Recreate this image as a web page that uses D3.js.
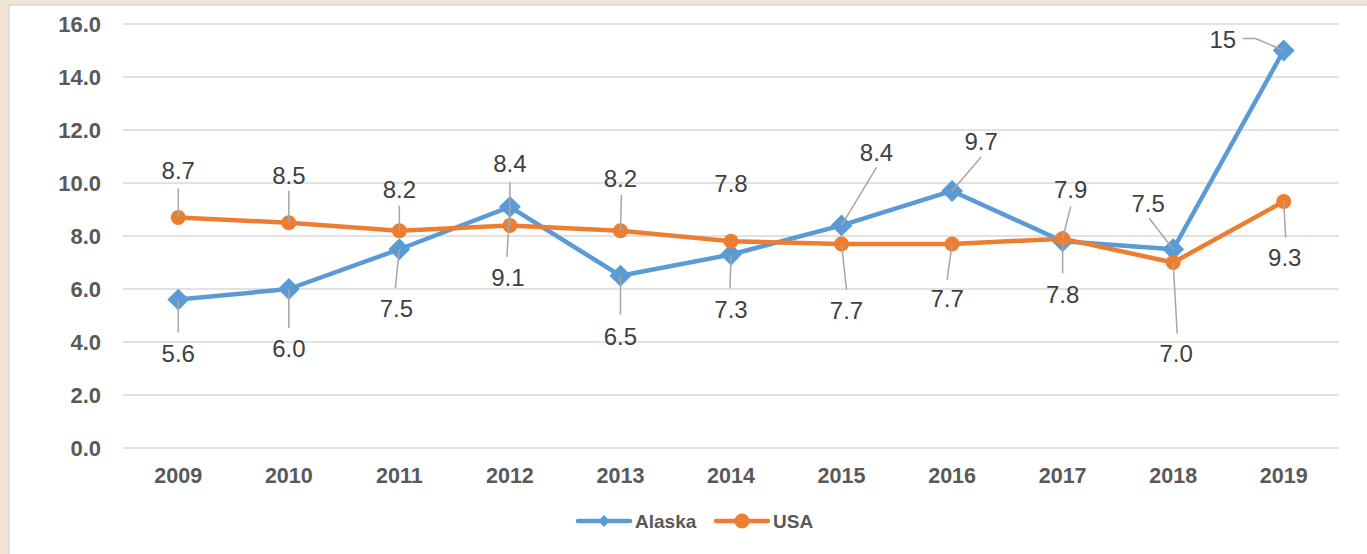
<!DOCTYPE html>
<html>
<head>
<meta charset="utf-8">
<script src="https://cdn.jsdelivr.net/npm/d3@7/dist/d3.min.js"></script>
<style>
  html, body { margin: 0; padding: 0; background: #f3e4d6; }
  #chart { width: 1367px; height: 554px; }
</style>
</head>
<body>
<div id="chart"></div>
<script>
// 数据
const years = ["2009", "2010", "2011", "2012", "2013", "2014", "2015", "2016", "2017", "2018", "2019"];
const alaska = [5.6, 6.0, 7.5, 9.1, 6.5, 7.3, 8.4, 9.7, 7.8, 7.5, 15];
const usa = [8.7, 8.5, 8.2, 8.4, 8.2, 7.8, 7.7, 7.7, 7.9, 7.0, 9.3];
const alaskaLabels = ["5.6", "6.0", "7.5", "9.1", "6.5", "7.3", "8.4", "9.7", "7.8", "7.5", "15"];
const usaLabels = ["8.7", "8.5", "8.2", "8.4", "8.2", "7.8", "7.7", "7.7", "7.9", "7.0", "9.3"];
const yTicks = [0, 2, 4, 6, 8, 10, 12, 14, 16];

// 标签偏移（相对于数据点，像素）：[label dx, label dy, leader end dx, leader end dy]
const alaskaLabelPos = [
    [0, 54, 0, 33], [0, 59, 0, 39], [-3, 59, -4, 39], [-2, 71, -3, 50], [0, 61, 0, 39], [0, 55, -1, 34],
    [35, -73, 35, -58], [29, -50, 29, -34], [0, 53, 0, 32], [-25, -46, -24, -31], [-61, -11, -41, -12]
];
const usaLabelPos = [
    [0, -47, 0, -29], [0, -47, 0, -32], [0, -41, 0, -25], [0, -62, 0, -43], [0, -52, 1, -36], [0, -58, 0, 0],
    [5, 66, 5, 46], [-5, 54, -5, 36], [8, -49, 8, -32], [3, 91, 4, 71], [1, 56, 2, 36]
];

const W = 1367, H = 554;
const plot = { left: 123, right: 1339, top: 24, bottom: 448 };

const svg = d3.select("#chart").append("svg")
    .attr("width", W).attr("height", H);

// 白色面板
svg.append("rect")
    .attr("x", 9).attr("y", 5)
    .attr("width", W).attr("height", H)
    .attr("fill", "#ffffff")
    .attr("stroke", "#d9d9d9")
    .attr("stroke-width", 1.5);

const x = d3.scaleBand().domain(years).range([plot.left, plot.right]);
const y = d3.scaleLinear().domain([0, 16]).range([plot.bottom, plot.top]);
const cx = (i) => x(years[i]) + x.bandwidth() / 2;

const font = "'Liberation Sans', Arial, sans-serif";

// 网格线
svg.append("g")
    .selectAll("line")
    .data(yTicks)
    .join("line")
    .attr("x1", plot.left).attr("x2", plot.right)
    .attr("y1", d => y(d)).attr("y2", d => y(d))
    .attr("stroke", "#d9d9d9")
    .attr("stroke-width", 1.5);

// Y 轴
const yAxis = svg.append("g")
    .attr("transform", `translate(${plot.left - 22},0)`)
    .call(d3.axisLeft(y).tickValues(yTicks).tickFormat(d3.format(".1f")).tickSize(0).tickPadding(0));
yAxis.select(".domain").remove();
yAxis.selectAll("text")
    .attr("fill", "#595959")
    .style("font-family", font)
    .style("font-size", "22px")
    .style("font-weight", "bold");

// X 轴
const xAxis = svg.append("g")
    .attr("transform", `translate(0,${plot.bottom})`)
    .call(d3.axisBottom(x).tickSize(0).tickPadding(20));
xAxis.select(".domain").remove();
xAxis.selectAll("text")
    .attr("fill", "#595959")
    .style("font-family", font)
    .style("font-size", "21.5px")
    .style("font-weight", "bold");

const line = d3.line().x((d, i) => cx(i)).y(d => y(d));

// Alaska
svg.append("path")
    .datum(alaska)
    .attr("d", line)
    .attr("fill", "none")
    .attr("stroke", "#5b9bd5")
    .attr("stroke-width", 4.5)
    .attr("stroke-linejoin", "round");
svg.append("g").selectAll("path")
    .data(alaska)
    .join("path")
    .attr("d", d3.symbol().type(d3.symbolSquare).size(240))
    .attr("transform", (d, i) => `translate(${cx(i)},${y(d)}) rotate(45)`)
    .attr("fill", "#5b9bd5");

// USA
svg.append("path")
    .datum(usa)
    .attr("d", line)
    .attr("fill", "none")
    .attr("stroke", "#ed7d31")
    .attr("stroke-width", 4.5)
    .attr("stroke-linejoin", "round");
svg.append("g").selectAll("circle")
    .data(usa)
    .join("circle")
    .attr("cx", (d, i) => cx(i))
    .attr("cy", d => y(d))
    .attr("r", 7.5)
    .attr("fill", "#ed7d31");

// 数据标签与引导线
function drawLabels(values, labels, pos) {
    const g = svg.append("g");
    values.forEach((v, i) => {
        const px = cx(i), py = y(v);
        const p = pos[i];
        if (Math.abs(p[3]) > 20 || Math.abs(p[2]) > 20) {
            if (i === 10 && p[0] < -30) {
                // 折线引导线
                g.append("polyline")
                    .attr("points", `${px},${py} ${px - 28},${py - 12} ${px + p[2]},${py + p[3]}`)
                    .attr("fill", "none")
                    .attr("stroke", "#a6a6a6")
                    .attr("stroke-width", 1.5);
            } else {
                g.append("line")
                    .attr("x1", px).attr("y1", py)
                    .attr("x2", px + p[2]).attr("y2", py + p[3])
                    .attr("stroke", "#a6a6a6")
                    .attr("stroke-width", 1.5);
            }
        }
        g.append("text")
            .attr("x", px + p[0])
            .attr("y", py + p[1])
            .attr("dy", "0.36em")
            .attr("text-anchor", "middle")
            .attr("fill", "#404040")
            .style("font-family", font)
            .style("font-size", "24px")
            .text(labels[i]);
    });
}
drawLabels(alaska, alaskaLabels, alaskaLabelPos);
drawLabels(usa, usaLabels, usaLabelPos);

// 图例
const legend = svg.append("g").attr("transform", "translate(576,521)");
const series = [
    { name: "Alaska", color: "#5b9bd5", shape: "diamond", x: 0 },
    { name: "USA", color: "#ed7d31", shape: "circle", x: 138 }
];
series.forEach(s => {
    const row = legend.append("g").attr("transform", `translate(${s.x},0)`);
    row.append("line")
        .attr("x1", 2).attr("x2", 54)
        .attr("stroke", s.color)
        .attr("stroke-width", 4.5)
        .attr("stroke-linecap", "round");
    if (s.shape === "diamond") {
        row.append("path")
            .attr("d", d3.symbol().type(d3.symbolSquare).size(70))
            .attr("transform", "translate(28,0) rotate(45)")
            .attr("fill", s.color);
    } else {
        row.append("circle").attr("cx", 28).attr("r", 7.5).attr("fill", s.color);
    }
    row.append("text")
        .attr("x", 59)
        .attr("dy", "0.36em")
        .attr("fill", "#595959")
        .style("font-family", font)
        .style("font-size", "19px")
        .style("font-weight", "bold")
        .text(s.name);
});
</script>
</body>
</html>
